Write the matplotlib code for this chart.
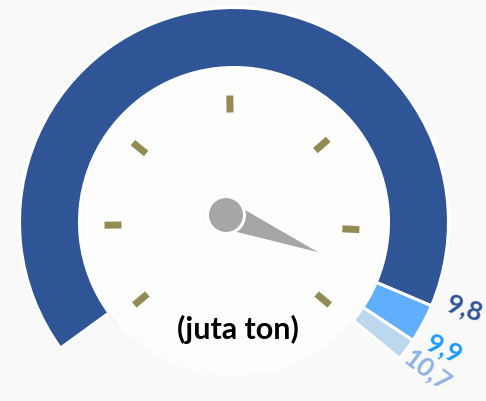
import numpy as np
import matplotlib
matplotlib.use("Agg")
import matplotlib.pyplot as plt
from matplotlib.patches import Circle, Polygon

# ---- data ----
labels = ["9,8", "9,9", "10,7"]               # boundary values shown on gauge
segment_sweep = [239.0, 10.5, 6.0]           # visible gauge segments (degrees)
segment_colors = ["#2F5597", "#5FAEFF", "#BDD7EE"]
label_colors = ["#2F5597", "#1E9BFF", "#8DB4E2"]
start_angle = 216.0                          # gauge start (math degrees)
tick_angles = [220, 181, 141, 91, 41, -3, -40]
needle_angle = -22.0
unit_text = "(juta ton)"

W, H, DPI = 486, 401, 100
fig = plt.figure(figsize=(W / DPI, H / DPI), dpi=DPI)
bg = "#F9F9F9"
fig.patch.set_facecolor(bg)
ax = fig.add_axes([0, 0, 1, 1])

cx, cy = 234, H - 222
R_out, ring_w = 214.5, 60

# inner dial face
ax.add_patch(Circle((cx, cy), R_out - ring_w, facecolor="#FDFDFD", edgecolor="none", zorder=1))

# gauge ring via pie
hidden = 360 - sum(segment_sweep)
wedges, _ = ax.pie(segment_sweep + [hidden], center=(cx, cy), radius=R_out,
                   startangle=start_angle, counterclock=False,
                   colors=segment_colors + ["none"],
                   wedgeprops=dict(width=ring_w, edgecolor="white", linewidth=2.2))
wedges[-1].set_edgecolor("none")
for w in wedges:
    w.set_zorder(2)
ax.set_xlim(0, W)
ax.set_ylim(0, H)
ax.set_aspect("equal")
ax.axis("off")

# value labels at segment ends
ends = start_angle - np.cumsum(segment_sweep)
for lab, a, col, rot, r_lab, da in zip(labels, ends, label_colors, [-18, -25, -37],
                                       [247, 246, 244], [2.5, 2.5, 2.0]):
    aa = np.deg2rad(a + da)
    ax.text(cx + r_lab * np.cos(aa), cy + r_lab * np.sin(aa), lab, color=col,
            fontsize=19, fontweight="bold", family="Lato", rotation=rot,
            ha="center", va="center", rotation_mode="anchor", zorder=5)

# ticks
tcx, tcy = 232, H - 223
r_t, t_len, t_w = 119, 17, 7
for a in tick_angles:
    t = np.deg2rad(a)
    u = np.array([np.cos(t), np.sin(t)])
    p = np.array([-np.sin(t), np.cos(t)])
    c = np.array([tcx, tcy]) + r_t * u
    pts = [c - u * t_len / 2 - p * t_w / 2, c + u * t_len / 2 - p * t_w / 2,
           c + u * t_len / 2 + p * t_w / 2, c - u * t_len / 2 + p * t_w / 2]
    ax.add_patch(Polygon(pts, closed=True, facecolor="#948A54", edgecolor="none", zorder=3))

# needle
px, py = 226, H - 215
n_len, n_half = 99, 14
t = np.deg2rad(needle_angle)
u = np.array([np.cos(t), np.sin(t)])
p = np.array([-np.sin(t), np.cos(t)])
base = np.array([px, py])
ax.add_patch(Polygon([base + p * n_half, base + u * n_len, base - p * n_half],
                     closed=True, facecolor="#A6A6A6", edgecolor="none", zorder=4))
ax.add_patch(Circle((px, py), 18.5, facecolor="#A6A6A6", edgecolor="white", linewidth=2.2, zorder=4.5))

ax.text(238, H - 329, unit_text, fontsize=22, fontweight="bold", family="Lato",
        color="black", ha="center", va="center", zorder=5)

fig.savefig("out.png", dpi=DPI, facecolor=bg)
